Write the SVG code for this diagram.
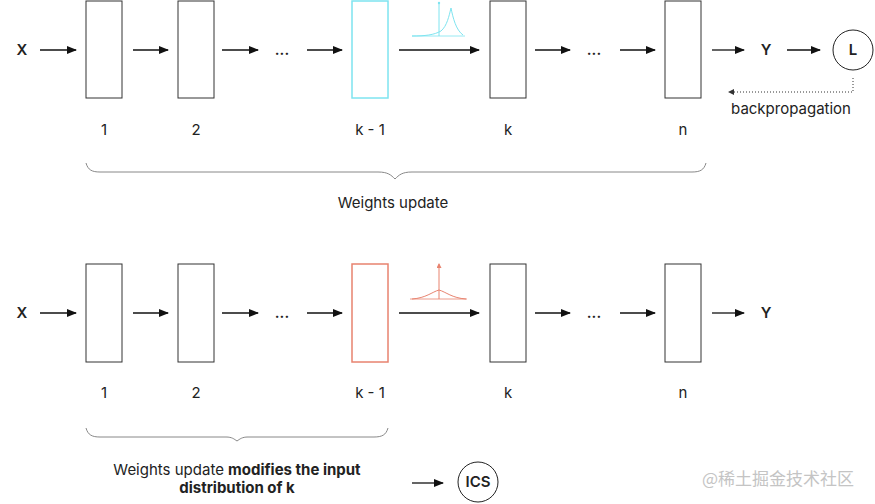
<svg xmlns="http://www.w3.org/2000/svg" width="875" height="504" viewBox="0 0 875 504">
<defs>
<marker id="ah" markerWidth="10" markerHeight="8" refX="9" refY="4" orient="auto" markerUnits="userSpaceOnUse">
<path d="M0,0 L10,4 L0,8 Z" fill="#111"/>
</marker>
<marker id="ahs" markerWidth="6" markerHeight="6" refX="5" refY="3" orient="auto" markerUnits="userSpaceOnUse">
<path d="M0,0 L6,3 L0,6 Z" fill="#333"/>
</marker>
<marker id="ahr" markerWidth="5" markerHeight="5" refX="4" refY="2.5" orient="auto" markerUnits="userSpaceOnUse">
<path d="M0,0 L5,2.5 L0,5 Z" fill="#e8836f"/>
</marker>
</defs>
<style>
.box{fill:#fff;stroke:#333;stroke-width:1}
.cy{fill:#fff;stroke:#7ee4f0;stroke-width:1.5}
.rd{fill:#fff;stroke:#e8836f;stroke-width:1.5}
.t{font-family:Inter,"Liberation Sans",sans-serif;font-size:15px;fill:#222;text-anchor:middle}
.b{font-weight:bold}
.sb{font-weight:600}
.ar{stroke:#111;stroke-width:1.3;fill:none;marker-end:url(#ah)}
.br{stroke:#888;stroke-width:1;fill:none}
</style>
<rect width="875" height="504" fill="#fff"/>

<!-- Top row -->
<g id="top-x"><text class="t sb" x="22" y="55">X</text></g>
<g id="top-1"><rect class="box" x="86" y="1" width="36" height="97"/><text class="t" x="104" y="135">1</text></g>
<g id="top-2"><rect class="box" x="178" y="1" width="36" height="97"/><text class="t" x="196" y="135">2</text></g>
<g id="top-dots1"><text class="t sb" x="282" y="55">...</text></g>
<g id="top-k1"><rect class="cy" x="352" y="1" width="36" height="97"/><text class="t" x="370" y="135">k - 1</text></g>
<g id="top-dist">
<line x1="412" y1="36" x2="465" y2="36" stroke="#7ee4f0" stroke-width="0.8"/>
<line x1="439" y1="36" x2="439" y2="3" stroke="#7ee4f0" stroke-width="1"/>
<circle cx="439" cy="3" r="1.2" fill="#7ee4f0"/>
<path d="M412,36 C425,36 434,35 441,31 C447,26 449,16 451,8 C453,18 456,30 463,35" stroke="#7ee4f0" stroke-width="1" fill="none"/>
</g>
<g id="top-k"><rect class="box" x="490" y="1" width="36" height="97"/><text class="t" x="508" y="135">k</text></g>
<g id="top-dots2"><text class="t sb" x="594" y="55">...</text></g>
<g id="top-n"><rect class="box" x="665" y="1" width="36" height="97"/><text class="t" x="683" y="135">n</text></g>
<g id="top-y"><text class="t sb" x="766" y="55">Y</text></g>
<g id="top-l"><circle cx="853" cy="50" r="20" fill="#fff" stroke="#222" stroke-width="1"/><text class="t sb" x="853" y="55">L</text></g>
<g id="top-bp"><text class="t" x="791" y="114">backpropagation</text></g>
<g id="top-brace"><path class="br" d="M86,163 C88,170 92,172 100,172 L378,172 C388,172 391,175 395,179 C399,175 402,172 412,172 L692,172 C700,172 704,170 706,163"/><text class="t" x="393" y="208">Weights update</text></g>

<!-- Bottom row -->
<g id="bot-x"><text class="t sb" x="22" y="318">X</text></g>
<g id="bot-1"><rect class="box" x="86" y="264" width="36" height="98"/><text class="t" x="104" y="398">1</text></g>
<g id="bot-2"><rect class="box" x="178" y="264" width="36" height="98"/><text class="t" x="196" y="398">2</text></g>
<g id="bot-dots1"><text class="t sb" x="282" y="318">...</text></g>
<g id="bot-k1"><rect class="rd" x="352" y="264" width="36" height="98"/><text class="t" x="370" y="398">k - 1</text></g>
<g id="bot-dist">
<line x1="410" y1="299" x2="467" y2="299" stroke="#e8836f" stroke-width="0.8"/>
<line x1="439" y1="299" x2="439" y2="264" stroke="#e8836f" stroke-width="1" marker-end="url(#ahr)"/>
<path d="M412,299 C426,298 432,292 439,290 C446,292 452,298 466,299" stroke="#e8836f" stroke-width="1" fill="none"/>
</g>
<g id="bot-k"><rect class="box" x="490" y="264" width="36" height="98"/><text class="t" x="508" y="398">k</text></g>
<g id="bot-dots2"><text class="t sb" x="594" y="318">...</text></g>
<g id="bot-n"><rect class="box" x="665" y="264" width="36" height="98"/><text class="t" x="683" y="398">n</text></g>
<g id="bot-y"><text class="t sb" x="766" y="318">Y</text></g>
<g id="bot-brace"><path class="br" d="M86,428 C88,435 92,437 100,437 L226,437 C232,437 234,439 237,441 C240,439 242,437 248,437 L374,437 C382,437 386,435 388,428"/>
<text class="t" x="237" y="475">Weights update <tspan class="b">modifies the input</tspan></text>
<text class="t b" x="237" y="493">distribution of k</text></g>
<g id="bot-ics"><circle cx="478" cy="482" r="20" fill="#fff" stroke="#222" stroke-width="1"/><text class="t sb" x="478" y="487">ICS</text></g>

<text x="778" y="485" font-family="'Noto Sans CJK SC',sans-serif" font-size="17" fill="#c4c4c4" text-anchor="middle">@稀土掘金技术社区</text>

<g id="connectors">
<line class="ar" x1="40" y1="50" x2="76" y2="50"/>
<line class="ar" x1="133" y1="50" x2="168" y2="50"/>
<line class="ar" x1="222" y1="50" x2="258" y2="50"/>
<line class="ar" x1="307" y1="50" x2="342" y2="50"/>
<line class="ar" x1="399" y1="50" x2="479" y2="50"/>
<line class="ar" x1="535" y1="50" x2="570" y2="50"/>
<line class="ar" x1="620" y1="50" x2="655" y2="50"/>
<line class="ar" x1="712" y1="50" x2="744" y2="50"/>
<line class="ar" x1="787" y1="50" x2="820" y2="50"/>
<path d="M853,78 L853,92 L729,92" stroke="#333" stroke-width="1" stroke-dasharray="1,2" fill="none" marker-end="url(#ahs)"/>
<line class="ar" x1="40" y1="313" x2="76" y2="313"/>
<line class="ar" x1="133" y1="313" x2="168" y2="313"/>
<line class="ar" x1="222" y1="313" x2="258" y2="313"/>
<line class="ar" x1="307" y1="313" x2="342" y2="313"/>
<line class="ar" x1="399" y1="313" x2="479" y2="313"/>
<line class="ar" x1="535" y1="313" x2="570" y2="313"/>
<line class="ar" x1="620" y1="313" x2="655" y2="313"/>
<line class="ar" x1="712" y1="313" x2="744" y2="313"/>
<line class="ar" x1="412" y1="483" x2="443" y2="483"/>
</g>
</svg>
